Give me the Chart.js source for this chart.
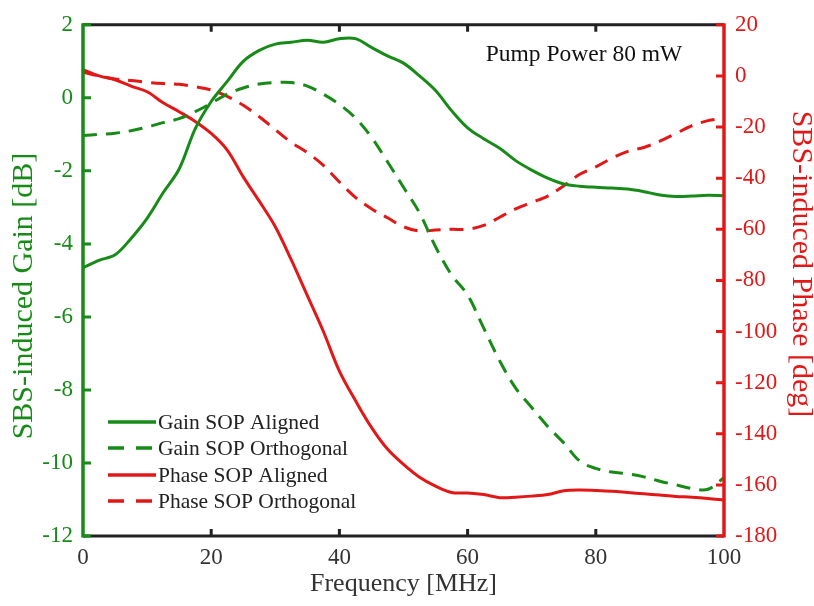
<!DOCTYPE html>
<html><head><meta charset="utf-8">
<script src="https://cdn.jsdelivr.net/npm/chart.js@4"></script>
<style>html,body{margin:0;padding:0;background:#fff}#wrap{width:814px;height:606px}</style>
</head><body><div id="wrap"><canvas id="c" width="814" height="606"></canvas></div>
<script>
const freq = [0,2.5,5,7.5,10,12.5,15,17.5,20,22.5,25,27.5,30,32.5,35,37.5,40,42.5,45,47.5,50,52.5,55,57.5,60,62.5,65,67.5,70,72.5,75,77.5,80,82.5,85,87.5,90,92.5,95,97.5,100];
const gainAligned = [-4.65,-4.45,-4.3,-3.85,-3.3,-2.6,-1.95,-0.85,-0.1,0.45,1.0,1.3,1.47,1.52,1.58,1.52,1.62,1.62,1.38,1.15,0.95,0.6,0.2,-0.35,-0.82,-1.12,-1.38,-1.72,-1.98,-2.2,-2.36,-2.42,-2.45,-2.47,-2.5,-2.57,-2.66,-2.7,-2.69,-2.67,-2.68];
const gainOrthogonal = [-1.03,-1.0,-0.97,-0.9,-0.8,-0.68,-0.57,-0.38,-0.15,0.1,0.27,0.38,0.42,0.42,0.32,0.1,-0.18,-0.55,-1.08,-1.75,-2.45,-3.15,-4.08,-4.85,-5.4,-6.3,-7.2,-7.95,-8.48,-9.0,-9.45,-9.95,-10.15,-10.25,-10.3,-10.38,-10.5,-10.6,-10.7,-10.72,-10.4];
const phaseAligned = [2.5,0,-1.5,-4,-6.2,-10.5,-14,-17.8,-22.5,-29,-39.5,-49,-59,-72,-86,-100,-115.5,-127,-137.5,-146,-152,-157,-160.5,-163,-163.2,-163.8,-165,-164.8,-164.4,-163.8,-162.3,-162,-162.2,-162.5,-163,-163.5,-164,-164.5,-164.8,-165.3,-166];
const phaseOrthogonal = [1.5,0,-1.2,-1.8,-2.5,-3,-3.3,-4.2,-5.5,-8,-11.5,-16,-21,-26,-30,-35,-41.5,-47.5,-52,-55.5,-59,-60.7,-60.3,-60,-60,-58.5,-55.3,-52,-49.5,-47,-43,-38.5,-35.6,-32.2,-29.5,-28,-25.5,-22.5,-19.5,-17.5,-16.5];
const xTicks = [0,20,40,60,80,100];
const gainTicks = [2,0,-2,-4,-6,-8,-10,-12];
const phaseTicks = [20,0,-20,-40,-60,-80,-100,-120,-140,-160,-180];
const seriesNames = ['Gain SOP Aligned','Gain SOP Orthogonal','Phase SOP Aligned','Phase SOP Orthogonal'];
const xTitle = 'Frequency [MHz]';
const gainTitle = 'SBS-induced Gain [dB]';
const phaseTitle = 'SBS-induced Phase [deg]';
const annotationText = 'Pump Power 80 mW';

const GREEN = 'rgb(24,138,24)';
const RED = 'rgb(226,24,24)';
const DARK = '#222';
const FONT = '"Liberation Serif", "Times New Roman", serif';

const pts = arr => freq.map((f,i)=>({x:f,y:arr[i]}));

const framePlugin = {
  id:'frame',
  afterDatasetsDraw(chart){
    const {ctx, chartArea:a, scales} = chart;
    const x = scales.x, yl = scales.y, yr = scales.y2;
    ctx.save();
    ctx.lineCap = 'butt';
    ctx.strokeStyle = DARK; ctx.lineWidth = 3;
    ctx.beginPath(); ctx.moveTo(a.left, a.top); ctx.lineTo(a.right, a.top);
    ctx.moveTo(a.left, a.bottom); ctx.lineTo(a.right, a.bottom); ctx.stroke();
    ctx.beginPath();
    xTicks.forEach(v=>{ const px = x.getPixelForValue(v);
      if (v===0||v===100) return;
      ctx.moveTo(px, a.bottom); ctx.lineTo(px, a.bottom-7);
      ctx.moveTo(px, a.top); ctx.lineTo(px, a.top+7); });
    ctx.stroke();
    ctx.strokeStyle = GREEN; ctx.lineWidth = 3.5;
    ctx.beginPath(); ctx.moveTo(a.left, a.top-1.5); ctx.lineTo(a.left, a.bottom+1.5); ctx.stroke();
    ctx.lineWidth = 3;
    ctx.beginPath();
    gainTicks.forEach(v=>{ const py = yl.getPixelForValue(v); ctx.moveTo(a.left, py); ctx.lineTo(a.left+8, py); });
    ctx.stroke();
    ctx.strokeStyle = RED; ctx.lineWidth = 3.5;
    ctx.beginPath(); ctx.moveTo(a.right, a.top-1.5); ctx.lineTo(a.right, a.bottom+1.5); ctx.stroke();
    ctx.lineWidth = 3;
    ctx.beginPath();
    phaseTicks.forEach(v=>{ const py = yr.getPixelForValue(v); ctx.moveTo(a.right, py); ctx.lineTo(a.right-8, py); });
    ctx.stroke();
    // legend
    ctx.font = '21.5px ' + FONT;
    ctx.textBaseline = 'middle'; ctx.textAlign = 'left';
    const rows = [422, 448, 475, 501];
    chart.data.datasets.forEach((ds,i)=>{
      const y = rows[i];
      ctx.strokeStyle = ds.borderColor; ctx.lineWidth = 3.5;
      ctx.setLineDash(ds.borderDash && ds.borderDash.length ? [16,12] : []);
      ctx.beginPath(); ctx.moveTo(108, y); ctx.lineTo(156, y); ctx.stroke();
      ctx.setLineDash([]);
      ctx.fillStyle = DARK; ctx.fillText(ds.label, 158, y+1);
    });
    // annotation
    ctx.font = '23.5px ' + FONT; ctx.textAlign = 'center';
    ctx.fillStyle = '#111';
    ctx.fillText(annotationText, 584, 55);
    // y-axis titles
    ctx.font = '30px ' + FONT;
    ctx.fillStyle = GREEN;
    ctx.save(); ctx.translate(24, 296); ctx.rotate(-Math.PI/2); ctx.fillText(gainTitle, 0, 0); ctx.restore();
    ctx.fillStyle = RED;
    ctx.save(); ctx.translate(801, 264); ctx.rotate(Math.PI/2); ctx.fillText(phaseTitle, 0, 0); ctx.restore();
    ctx.restore();
  }
};

new Chart(document.getElementById('c'), {
  type:'line',
  data:{ datasets:[
    {label:seriesNames[0], data:pts(gainAligned), yAxisID:'y', borderColor:GREEN, borderWidth:3, borderDash:[], pointRadius:0, tension:0.35},
    {label:seriesNames[1], data:pts(gainOrthogonal), yAxisID:'y', borderColor:GREEN, borderWidth:3, borderDash:[14,9], pointRadius:0, tension:0.35},
    {label:seriesNames[2], data:pts(phaseAligned), yAxisID:'y2', borderColor:RED, borderWidth:3, borderDash:[], pointRadius:0, tension:0.35},
    {label:seriesNames[3], data:pts(phaseOrthogonal), yAxisID:'y2', borderColor:RED, borderWidth:3, borderDash:[14,9], pointRadius:0, tension:0.35}
  ]},
  options:{
    responsive:false, animation:false, devicePixelRatio:1,
    layout:{padding:{top:18,left:0,right:0,bottom:0}},
    plugins:{legend:{display:false}, tooltip:{enabled:false}},
    scales:{
      x:{type:'linear', min:0, max:100, grid:{display:false, drawTicks:false}, border:{display:false},
         afterBuildTicks:s=>{s.ticks = xTicks.map(v=>({value:v}));},
         afterFit:s=>{s.height = 70;},
         ticks:{color:'#333', padding:8, font:{family:FONT, size:23}, maxRotation:0, autoSkip:false},
         title:{display:true, text:xTitle, color:'#333', font:{family:FONT, size:26}, padding:{top:0,bottom:6}}},
      y:{position:'left', min:-12, max:2, grid:{display:false, drawTicks:false}, border:{display:false},
         afterBuildTicks:s=>{s.ticks = gainTicks.map(v=>({value:v}));},
         afterFit:s=>{s.width = 83;},
         ticks:{color:GREEN, padding:10, font:{family:FONT, size:23}, autoSkip:false}},
      y2:{position:'right', min:-180, max:20, grid:{display:false, drawTicks:false}, border:{display:false},
         afterBuildTicks:s=>{s.ticks = phaseTicks.map(v=>({value:v}));},
         afterFit:s=>{s.width = 90;},
         ticks:{color:RED, padding:11, font:{family:FONT, size:23}, autoSkip:false}}
    }
  },
  plugins:[framePlugin]
});
</script></body></html>
